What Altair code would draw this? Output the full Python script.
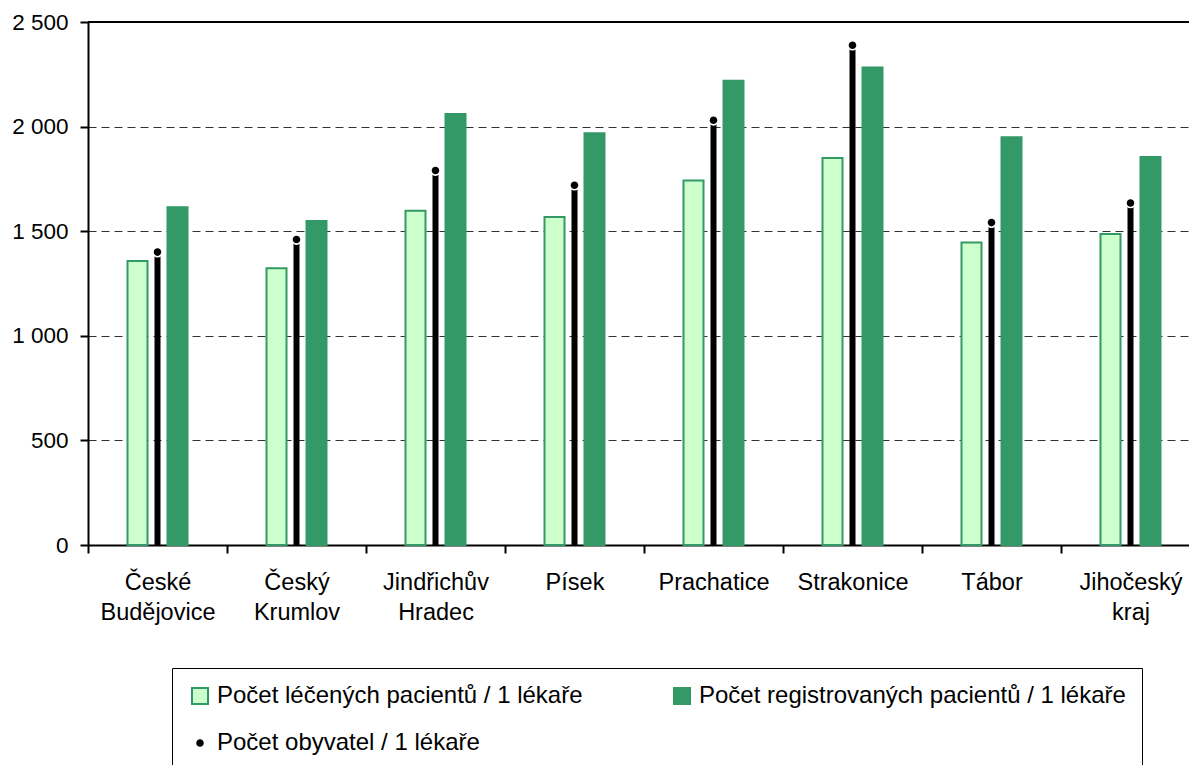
import altair as alt
import pandas as pd

categories = ["České\nBudějovice", "Český\nKrumlov", "Jindřichův\nHradec", "Písek",
              "Prachatice", "Strakonice", "Tábor", "Jihočeský\nkraj"]
treated = [1358, 1323, 1598, 1568, 1742, 1850, 1446, 1487]
registered = [1615, 1549, 2060, 1968, 2219, 2283, 1949, 1855]
residents = [1400, 1460, 1790, 1720, 2030, 2389, 1541, 1635]
series_names = ["Počet léčených pacientů / 1 lékaře",
                "Počet registrovaných pacientů / 1 lékaře",
                "Počet obyvatel / 1 lékaře"]
y_ticks = [0, 500, 1000, 1500, 2000, 2500]
y_max = [2500]

bars_df = pd.DataFrame({
    "kategorie": categories * 2,
    "serie": [series_names[0]] * len(categories) + [series_names[1]] * len(categories),
    "hodnota": treated + registered,
})
dots_df = pd.DataFrame({
    "kategorie": categories,
    "serie": [series_names[2]] * len(categories),
    "hodnota": residents,
})
top_df = pd.DataFrame({"hodnota": y_max})

FONT = "Liberation Sans"
DOT = "M -0.47 0 A 0.47 0.47 0 1 0 0.47 0 A 0.47 0.47 0 1 0 -0.47 0 Z"

x_scale = alt.Scale(domain=categories, range=[0, 1112], paddingInner=0, paddingOuter=0)
x_axis = alt.Axis(title=None, labelExpr="split(datum.label, '\\n')", labelAngle=0,
                  tickBand="extent", labelFontSize=23.5, labelPadding=17,
                  labelLineHeight=30, grid=False, domainWidth=2, tickWidth=2, tickSize=8)
y_scale = alt.Scale(domain=[0, 2500], nice=False, zero=True)
y_axis = alt.Axis(title=None, values=y_ticks,
                  labelExpr="replace(format(datum.value, ','), ',', ' ')",
                  labelFontSize=22.5, labelPadding=12, grid=True, gridDash=[8, 5],
                  gridColor="#333333", gridWidth=1, domainWidth=2, tickWidth=2, tickSize=8)

def X():
    return alt.X("kategorie:N", sort=categories, scale=x_scale, axis=x_axis)

def Y():
    return alt.Y("hodnota:Q", scale=y_scale, axis=y_axis)

leg = alt.Legend(title=None, values=series_names)
color = alt.Color("serie:N", scale=alt.Scale(domain=series_names,
                  range=["#CCFFCC", "#339966", "black"]), legend=leg)
stroke = alt.Stroke("serie:N", scale=alt.Scale(domain=series_names,
                    range=["#339966", "#339966", "transparent"]), legend=leg)
shape = alt.Shape("serie:N", scale=alt.Scale(domain=series_names,
                  range=["square", "square", DOT]), legend=leg)

bars = alt.Chart(bars_df).mark_bar(strokeWidth=2).encode(
    x=X(), y=Y(),
    xOffset=alt.XOffset("serie:N", scale=alt.Scale(domain=series_names[:2],
                        paddingInner=0.5, paddingOuter=0.9875)),
    color=color, stroke=stroke,
)

stems = alt.Chart(dots_df).mark_rule(color="black", strokeWidth=6).encode(
    x=X(), y=Y(), y2=alt.datum(0),
)

halo = alt.Chart(dots_df).mark_point(filled=True, color="white", size=115,
                                     opacity=1, shape="circle", strokeWidth=0).encode(
    x=X(), y=Y(),
)

dots = alt.Chart(dots_df).mark_point(filled=True, size=256, opacity=1, strokeWidth=0).encode(
    x=X(), y=Y(), color=color, shape=shape,
)

top_line = alt.Chart(top_df).mark_rule(color="black", strokeWidth=2).encode(y=Y())

chart = alt.layer(bars, stems, halo, dots, top_line).properties(
    width=1101, height=523,
    autosize=alt.AutoSizeParams(type="none"),
    padding={"left": 80, "top": 14, "right": 0, "bottom": 220},
).configure_view(stroke=None).configure_axis(
    labelFont=FONT, labelColor="black", domainColor="black", tickColor="black",
).configure_legend(
    orient="none", legendX=84, legendY=646, columns=2, direction="horizontal",
    labelFont=FONT, labelFontSize=24, labelColor="black", labelLimit=800,
    labelOffset=5, padding=16, columnPadding=87, rowPadding=23,
    strokeColor="black", symbolStrokeWidth=2, symbolSize=256,
)

chart.save("out.html", embed_options={"renderer": "svg", "actions": False})
